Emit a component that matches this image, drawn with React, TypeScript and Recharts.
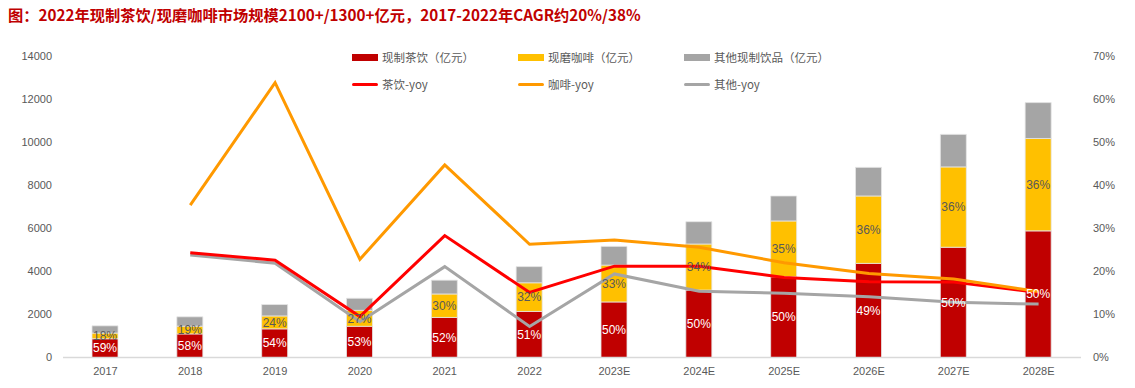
import React from 'react';
import { ComposedChart, Bar, Line, XAxis, YAxis, LabelList } from 'recharts';

const categories = ['2017', '2018', '2019', '2020', '2021', '2022', '2023E', '2024E', '2025E', '2026E', '2027E', '2028E'];
const teaSize = [870, 1095, 1330, 1450, 1860, 2140, 2580, 3130, 3750, 4370, 5120, 5880];
const coffeeSize = [265, 360, 600, 740, 1090, 1330, 1710, 2140, 2590, 3130, 3730, 4290];
const otherSize = [335, 435, 530, 560, 640, 750, 870, 1035, 1160, 1330, 1510, 1665];
const teaShareLabels = ['59%', '58%', '54%', '53%', '52%', '51%', '50%', '50%', '50%', '49%', '50%', '50%'];
const coffeeShareLabels = ['18%', '19%', '24%', '27%', '30%', '32%', '33%', '34%', '35%', '36%', '36%', '36%'];
const teaYoy = [null, 24.3, 22.6, 9.5, 28.3, 15.1, 21.2, 21.2, 18.6, 17.6, 17.5, 15.1];
const coffeeYoy = [null, 35.4, 63.8, 22.8, 44.7, 26.3, 27.3, 25.6, 22.0, 19.5, 18.2, 15.3];
const otherYoy = [null, 23.8, 21.9, 8.3, 21.1, 7.2, 19.4, 15.4, 14.9, 14.1, 12.8, 12.4];
const leftTicks = [0, 2000, 4000, 6000, 8000, 10000, 12000, 14000];
const rightTicks = [0, 10, 20, 30, 40, 50, 60, 70];

const title = '图：2022年现制茶饮/现磨咖啡市场规模2100+/1300+亿元，2017-2022年CAGR约20%/38%';

const legendRows = [
  [
    { name: '现制茶饮（亿元）', color: '#C00000', kind: 'rect' },
    { name: '现磨咖啡（亿元）', color: '#FFC000', kind: 'rect' },
    { name: '其他现制饮品（亿元）', color: '#A5A5A5', kind: 'rect' },
  ],
  [
    { name: '茶饮-yoy', color: '#FF0000', kind: 'line' },
    { name: '咖啡-yoy', color: '#FF9900', kind: 'line' },
    { name: '其他-yoy', color: '#A5A5A5', kind: 'line' },
  ],
];

const data = categories.map((c, i) => ({
  year: c,
  tea: teaSize[i],
  coffee: coffeeSize[i],
  other: otherSize[i],
  teaLabel: teaShareLabels[i],
  coffeeLabel: coffeeShareLabels[i],
  teaYoy: teaYoy[i],
  coffeeYoy: coffeeYoy[i],
  otherYoy: otherYoy[i],
}));

const numFont = '"Liberation Sans", Arial, sans-serif';
const cjkFont = '"Noto Sans CJK SC", "Liberation Sans", sans-serif';

export default function App() {
  return (
    <div style={{ position: 'absolute', left: 0, top: 0, width: 1135, height: 388, background: '#fff' }}>
      <div
        style={{
          position: 'absolute',
          left: 8,
          top: 4,
          lineHeight: '20px',
          fontSize: 15.25,
          fontWeight: 'bold',
          color: '#C00000',
          fontFamily: cjkFont,
          whiteSpace: 'nowrap',
        }}
      >
        {title}
      </div>
      {legendRows.map((row, r) =>
        row.map((item, c) => (
          <div
            key={`${r}-${c}`}
            style={{
              position: 'absolute',
              left: 352 + c * 166,
              top: r === 0 ? 48 : 75,
              height: 18,
              display: 'flex',
              alignItems: 'center',
              whiteSpace: 'nowrap',
              fontFamily: cjkFont,
              fontSize: 11.5,
              color: '#595959',
            }}
          >
            <span
              style={{
                display: 'inline-block',
                width: 26,
                height: item.kind === 'rect' ? 7 : 3,
                background: item.color,
                marginRight: 4,
                borderRadius: item.kind === 'line' ? 1.5 : 0,
              }}
            />
            {item.name}
          </div>
        ))
      )}
      <ComposedChart
        width={1135}
        height={388}
        data={data}
        margin={{ top: 56, right: 0, bottom: 0.5, left: 0 }}
        style={{ position: 'absolute', left: 0, top: 0 }}
      >
        <XAxis
          dataKey="year"
          height={30}
          tickLine={false}
          axisLine={{ stroke: '#D9D9D9', strokeWidth: 1.5 }}
          tick={{ fill: '#595959', fontSize: 11, fontFamily: numFont }}
          tickMargin={4}
          interval={0}
        />
        <YAxis
          yAxisId="left"
          width={63}
          domain={[0, 14000]}
          ticks={leftTicks}
          tickLine={false}
          axisLine={false}
          tickMargin={5}
          tick={{ fill: '#595959', fontSize: 11, fontFamily: numFont }}
        />
        <YAxis
          yAxisId="right"
          orientation="right"
          width={54}
          domain={[0, 70]}
          ticks={rightTicks}
          tickLine={false}
          axisLine={false}
          tickMargin={6}
          tickFormatter={(v) => `${v}%`}
          tick={{ fill: '#595959', fontSize: 11, fontFamily: numFont }}
        />
        <Bar yAxisId="left" dataKey="tea" stackId="s" fill="#C00000" stroke="#E6E6E6" strokeWidth={0.8} barSize={26} isAnimationActive={false}>
          <LabelList dataKey="teaLabel" position="center" fill="#FFFFFF" fontSize={12} fontFamily={numFont} />
        </Bar>
        <Bar yAxisId="left" dataKey="coffee" stackId="s" fill="#FFC000" stroke="#E6E6E6" strokeWidth={0.8} barSize={26} isAnimationActive={false}>
          <LabelList dataKey="coffeeLabel" position="center" fill="#595959" fontSize={12} fontFamily={numFont} />
        </Bar>
        <Bar yAxisId="left" dataKey="other" stackId="s" fill="#A5A5A5" stroke="#E6E6E6" strokeWidth={0.8} barSize={26} isAnimationActive={false} />
        <Line yAxisId="right" type="linear" dataKey="otherYoy" stroke="#A5A5A5" strokeWidth={3} dot={false} activeDot={false} isAnimationActive={false} />
        <Line yAxisId="right" type="linear" dataKey="teaYoy" stroke="#FF0000" strokeWidth={3} dot={false} activeDot={false} isAnimationActive={false} />
        <Line yAxisId="right" type="linear" dataKey="coffeeYoy" stroke="#FF9900" strokeWidth={3} dot={false} activeDot={false} isAnimationActive={false} />
      </ComposedChart>
    </div>
  );
}
